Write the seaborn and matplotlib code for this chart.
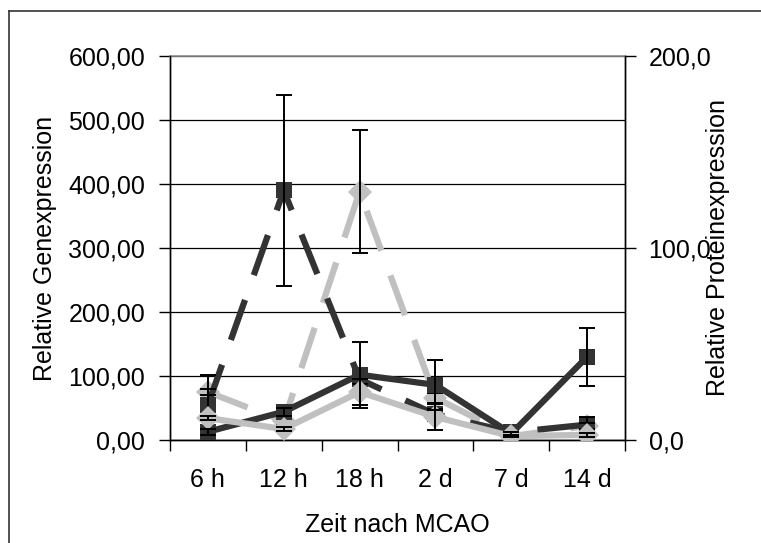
import numpy as np
import pandas as pd
import matplotlib
matplotlib.use("Agg")
import matplotlib.pyplot as plt
from matplotlib.lines import Line2D
from matplotlib.ticker import FuncFormatter, MultipleLocator, FixedLocator
import seaborn as sns

# ---- data ----
categories = ["6 h", "12 h", "18 h", "2 d", "7 d", "14 d"]

# Relative Genexpression (left axis, dashed)
gene_dark = [55, 390, 95, 40, 12, 24]
gene_dark_err = [46, 149, 8, 8, 2, 12]
gene_light = [75, 29, 388, 66, 6, 22]
gene_light_err = [5, 5, 96, 8, 2, 5]

# Relative Proteinexpression (right axis, solid)
prot_dark = [4.3, 14.7, 34.0, 28.7, 3.3, 43.3]
prot_dark_err = [1.5, 2.0, 17.3, 13.0, 1.0, 15.0]
prot_light = [11.4, 5.7, 25.0, 12.0, 2.0, 2.7]
prot_light_err = [1.0, 1.0, 6.7, 6.7, 0.5, 1.0]

dark = "#333333"
light = "#c0c0c0"

plt.rcParams["font.family"] = ["Liberation Sans", "DejaVu Sans"]
plt.rcParams["font.size"] = 18

pos = np.arange(len(categories))
gene_df = pd.DataFrame({
    "pos": np.concatenate([pos, pos]),
    "value": gene_dark + gene_light,
    "series": ["Gen dunkel"] * len(pos) + ["Gen hell"] * len(pos),
})
prot_df = pd.DataFrame({
    "pos": np.concatenate([pos, pos]),
    "value": prot_dark + prot_light,
    "series": ["Protein dunkel"] * len(pos) + ["Protein hell"] * len(pos),
})

fig = plt.figure(figsize=(7.61, 5.43), dpi=100)
ax = fig.add_axes([170 / 761, 1 - 440 / 543, 455 / 761, 384 / 543])
ax2 = ax.twinx()

lw = 4.5
ms = 12
sns.lineplot(data=gene_df, x="pos", y="value", hue="series", style="series",
             palette={"Gen dunkel": dark, "Gen hell": light},
             dashes={"Gen dunkel": (6.8, 4.2), "Gen hell": (6.8, 4.2)},
             markers={"Gen dunkel": "s", "Gen hell": "D"},
             hue_order=["Gen hell", "Gen dunkel"],
             linewidth=lw, markersize=ms, markeredgewidth=0,
             legend=False, ax=ax, zorder=3)
ax.errorbar(pos, gene_dark, yerr=gene_dark_err, fmt="none", ecolor="black",
            elinewidth=1.4, capsize=5.5, capthick=1.4, zorder=5)
ax.errorbar(pos, gene_light, yerr=gene_light_err, fmt="none", ecolor="black",
            elinewidth=1.4, capsize=5.5, capthick=1.4, zorder=5)

sns.lineplot(data=prot_df, x="pos", y="value", hue="series", style="series",
             palette={"Protein dunkel": dark, "Protein hell": light},
             dashes={"Protein dunkel": "", "Protein hell": ""},
             markers={"Protein dunkel": "s", "Protein hell": "D"},
             linewidth=lw, markersize=ms, markeredgewidth=0,
             legend=False, ax=ax2, zorder=3)
ax2.errorbar(pos, prot_dark, yerr=prot_dark_err, fmt="none", ecolor="black",
             elinewidth=1.4, capsize=5.5, capthick=1.4, zorder=5)
ax2.errorbar(pos, prot_light, yerr=prot_light_err, fmt="none", ecolor="black",
             elinewidth=1.4, capsize=5.5, capthick=1.4, zorder=5)

# axes limits / ticks
ax.set_xlim(-0.5, len(categories) - 0.5)
ax.set_ylim(0, 600)
ax2.set_ylim(0, 200)
ax.yaxis.set_major_locator(MultipleLocator(100))
ax2.yaxis.set_major_locator(MultipleLocator(100))
ax.yaxis.set_major_formatter(FuncFormatter(lambda v, p: f"{v:.2f}".replace(".", ",")))
ax2.yaxis.set_major_formatter(FuncFormatter(lambda v, p: f"{v:.1f}".replace(".", ",")))

ax.set_xticks(pos)
ax.set_xticklabels(categories)
ax.xaxis.set_minor_locator(FixedLocator(np.arange(-0.5, len(categories), 1.0)))
ax.tick_params(axis="x", which="major", length=0, pad=20, labelsize=18)
ax.tick_params(axis="x", which="minor", length=8, width=1, direction="out", color="black")
ax.tick_params(axis="y", length=8, width=1, direction="out", pad=10, labelsize=18, color="black")
ax2.tick_params(axis="y", length=8, width=1, direction="out", pad=9, labelsize=18, color="black")

ax.grid(axis="y", color="black", linewidth=0.9)
ax.grid(axis="x", visible=False)
ax.set_axisbelow(True)

for a in (ax, ax2):
    for s in ("left", "right", "bottom"):
        a.spines[s].set_color("black")
        a.spines[s].set_linewidth(1)
    a.set_facecolor("none")
ax2.spines["top"].set_visible(False)
ax.spines["top"].set_color("#8c8c8c")
ax.spines["top"].set_linewidth(1.2)

ax.set_xlabel("Zeit nach MCAO", fontsize=18)
ax.set_ylabel("Relative Genexpression", fontsize=18)
ax2.set_ylabel("Relative Proteinexpression", fontsize=18)
ax.xaxis.set_label_coords(0.5, (440 - 525) / 384)
ax.xaxis.label.set_va("center")
ax.yaxis.set_label_coords((45 - 170) / 455, 0.5)
ax.yaxis.label.set_va("center")
ax2.yaxis.set_label_coords((718 - 170) / 455, 0.5)
ax2.yaxis.label.set_va("center")
ax2.yaxis.label.set_rotation(90)

# outer frame (left + top)
fig.add_artist(Line2D([8.5 / 761, 8.5 / 761], [0, 1 - 11 / 543],
                      transform=fig.transFigure, color="#333333", lw=1.2))
fig.add_artist(Line2D([8.5 / 761, 1], [1 - 11 / 543, 1 - 11 / 543],
                      transform=fig.transFigure, color="#333333", lw=1.2))

fig.savefig("out.png", dpi=100, facecolor="white")
